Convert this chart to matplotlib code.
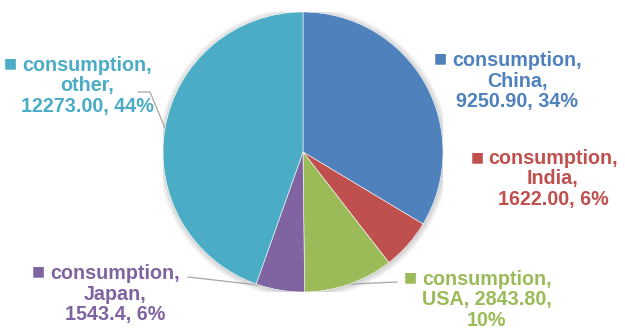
import numpy as np
import matplotlib
matplotlib.use("Agg")
import matplotlib.pyplot as plt
from matplotlib.patches import Circle

# Consumption by country
countries = ["China", "India", "USA", "Japan", "other"]
values = [9250.90, 1622.00, 2843.80, 1543.4, 12273.00]
value_text = ["9250.90", "1622.00", "2843.80", "1543.4", "12273.00"]
pct_text = ["34%", "6%", "10%", "6%", "44%"]
colors = ["#4F81BD", "#C0504D", "#9BBB59", "#8064A2", "#4BACC6"]

W, H = 625, 334
fig = plt.figure(figsize=(W / 100, H / 100), dpi=100)
fig.patch.set_facecolor("white")

# pie area: centre (303,152) px from top-left, radius 140 px
cx, cy, r = 303, 152, 140
ax = fig.add_axes([(cx - r) / W, (H - cy - r) / H, 2 * r / W, 2 * r / H])

wedges, _ = ax.pie(values, colors=colors, startangle=90, counterclock=False,
                   radius=1.0, wedgeprops=dict(linewidth=0.4, edgecolor="white"))
for w in wedges:
    w.set_zorder(2)
ax.set_xlim(-1, 1)
ax.set_ylim(-1, 1)
ax.set_aspect("equal")
ax.axis("off")

# soft drop shadow around the pie
for k in range(8):
    ax.add_patch(Circle((0.004, -0.006), 1.0 + 0.006 * k, color="#000000",
                        alpha=0.025, lw=0, zorder=0))

total = sum(values)
pcts = [v / total * 100 for v in values]


def px_to_fig(x, y):
    return x / W, 1 - y / H


# label blocks: text centre (px), square position (px)
label_pos = {
    "China": ((517, 81), (440, 58)),
    "India": ((553, 179), (477, 157)),
    "USA": ((487, 300), (410, 277)),
    "Japan": ((115, 294), (38, 271)),
    "other": ((87, 86), (10, 63)),
}
label_lines = {
    "China": "consumption,\nChina,\n{v}, {p}",
    "India": "consumption,\nIndia,\n{v}, {p}",
    "USA": "consumption,\nUSA, {v},\n{p}",
    "Japan": "consumption,\nJapan,\n{v}, {p}",
    "other": "consumption,\nother,\n{v}, {p}",
}

for name, vt, pt, c in zip(countries, value_text, pct_text, colors):
    (tx, ty), (sx, sy) = label_pos[name]
    fx, fy = px_to_fig(tx, ty)
    fig.text(fx, fy, label_lines[name].format(v=vt, p=pt), color=c,
             fontsize=14.2, fontweight="bold", family="Liberation Sans",
             ha="center", va="center", multialignment="center",
             linespacing=1.1)
    qx, qy = px_to_fig(sx, sy)
    fig.text(qx, qy, "■", color=c, fontsize=10, family="DejaVu Sans",
             ha="center", va="center")


# leader lines from labels to their slices
def slice_angle(i, frac=0.5):
    start = 90 - sum(pcts[:i]) * 3.6
    return np.deg2rad(start - pcts[i] * 3.6 * frac)


def px_to_data(x, y):
    return (x - cx) / r, (cy - y) / r


line_kw = dict(color="#A6A6A6", lw=0.9, zorder=1, clip_on=False)

# other
a = slice_angle(4, 0.5)
ex, ey = np.cos(a), np.sin(a)
p1 = px_to_data(138, 92)
p2 = px_to_data(150, 92)
ax.plot([p1[0], p2[0], ex], [p1[1], p2[1], ey], **line_kw)

# Japan
a = slice_angle(3, 0.92)
ex, ey = np.cos(a), np.sin(a)
p1 = px_to_data(188, 277)
ax.plot([p1[0], ex], [p1[1], ey], **line_kw)

# USA
a = slice_angle(2, 0.5)
ex, ey = np.cos(a), np.sin(a)
p1 = px_to_data(397, 282)
ax.plot([p1[0], ex], [p1[1], ey], **line_kw)

fig.savefig("out.png", dpi=100, facecolor="white")
